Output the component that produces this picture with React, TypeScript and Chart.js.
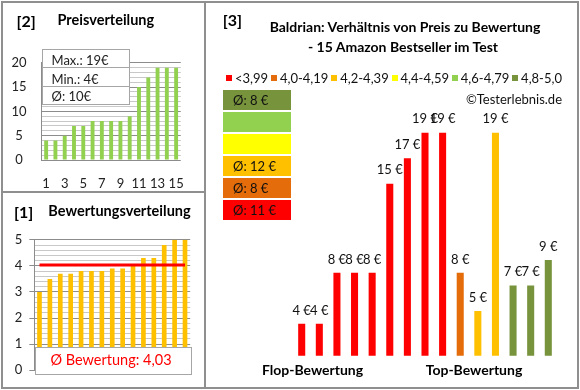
import React, { useEffect, useRef } from 'react';
import { Chart, registerables } from 'chart.js';

Chart.register(...registerables);

// ---------- data ----------
const productRanks = ['1', '2', '3', '4', '5', '6', '7', '8', '9', '10', '11', '12', '13', '14', '15'];
const pricesAscending = [4, 4, 5, 7, 7, 8, 8, 8, 8, 9, 15, 17, 19, 19, 19];
const ratingsAscending = [3.0, 3.5, 3.7, 3.7, 3.8, 3.8, 3.8, 3.9, 3.9, 4.0, 4.3, 4.3, 4.8, 5.0, 5.0];
const flopToTopPrices = [4, 4, 8, 8, 8, 15, 17, 19, 19, 8, 5, 19, 7, 7, 9];
const flopToTopRatings = [3.0, 3.5, 3.7, 3.7, 3.8, 3.8, 3.8, 3.9, 3.9, 4.0, 4.3, 4.3, 4.8, 5.0, 5.0];
const classLabels = ['<3,99', '4,0-4,19', '4,2-4,39', '4,4-4,59', '4,6-4,79', '4,8-5,0'];
const classColors = ['#FF0000', '#E46C0A', '#FFC000', '#FFFF00', '#92D050', '#77933C'];
const classLowerBounds = [0, 4.0, 4.2, 4.4, 4.6, 4.8];
const priceTickLabels = [0, 5, 10, 15, 20];
const ratingTickLabels = [0, 1, 2, 3, 4, 5];

const FONT = 'Lato, "Open Sans", sans-serif';

function classOf(r: number): number {
  let k = 0;
  classLowerBounds.forEach((b, i) => {
    if (r >= b - 1e-9) k = i;
  });
  return k;
}

const ratingAvg = ratingsAscending.reduce((a, b) => a + b, 0) / ratingsAscending.length;
const priceMax = Math.max(...pricesAscending);
const priceMin = Math.min(...pricesAscending);
const priceAvg = Math.round(pricesAscending.reduce((a, b) => a + b, 0) / pricesAscending.length);
const classAverages = classLabels.map((_, k) => {
  const ps = flopToTopPrices.filter((_, i) => classOf(flopToTopRatings[i]) === k);
  return ps.length ? Math.round(ps.reduce((a, b) => a + b, 0) / ps.length) : null;
});

function Label(props: {
  x: number; y: number; children: React.ReactNode; size?: number; bold?: boolean; color?: string;
  align?: 'left' | 'center' | 'right';
}) {
  const { x, y, children, size = 13, bold = false, color = '#000', align = 'left' } = props;
  const h = Math.round(size * 1.5);
  const style: React.CSSProperties = {
    position: 'absolute', top: y - h / 2, height: h, lineHeight: `${h}px`, fontSize: size,
    fontWeight: bold ? 700 : 400, color, whiteSpace: 'nowrap',
  };
  if (align === 'left') style.left = x;
  else if (align === 'center') { style.left = x - 200; style.width = 400; style.textAlign = 'center'; }
  else style.right = 580 - x;
  return <div style={style}>{children}</div>;
}

const BORDER = '#8f8f8f';

export default function App() {
  const priceRef = useRef<HTMLCanvasElement>(null);
  const ratingRef = useRef<HTMLCanvasElement>(null);
  const mainRef = useRef<HTMLCanvasElement>(null);

  useEffect(() => {
    const gridMajor = '#8c8c8c';
    const gridMinor = '#c8c8c8';
    const tickFont = { family: FONT, size: 13 };
    const isInt = (v: number) => Math.abs(v - Math.round(v)) < 1e-6;
    const charts: Chart[] = [];

    charts.push(new Chart(priceRef.current!, {
      type: 'bar',
      data: {
        labels: productRanks,
        datasets: [{ data: pricesAscending, backgroundColor: '#92D050', barPercentage: 0.42, categoryPercentage: 1 }],
      },
      options: {
        animation: false, responsive: false,
        layout: { padding: { top: 6.7, right: 10, left: 0, bottom: 0 } },
        plugins: { legend: { display: false }, tooltip: { enabled: false } },
        scales: {
          x: {
            grid: { display: false, drawTicks: false }, border: { display: false },
            ticks: {
              autoSkip: false, maxRotation: 0, minRotation: 0, padding: 16, color: '#222', font: tickFont,
              callback: (_v: any, i: number) => (i % 2 === 0 ? productRanks[i] : ''),
            },
            afterFit: (s: any) => { s.height = 35; },
          },
          y: {
            min: 0, max: 20,
            grid: { color: (c: any) => (c.tick.value % 5 === 0 ? gridMajor : gridMinor), drawTicks: false },
            border: { color: gridMajor },
            ticks: {
              autoSkip: false, stepSize: 1, padding: 15, crossAlign: 'center', color: '#222', font: tickFont,
              callback: (v: any) => (priceTickLabels.includes(Number(v)) ? String(v) : ''),
            },
            afterFit: (s: any) => { s.width = 41.5; },
          },
        },
      } as any,
    }));

    charts.push(new Chart(ratingRef.current!, {
      type: 'bar',
      data: {
        labels: productRanks,
        datasets: [
          { type: 'line', data: productRanks.map(() => ratingAvg), borderColor: '#FF0000', borderWidth: 3, pointRadius: 0, order: 0 } as any,
          { type: 'bar', data: ratingsAscending, backgroundColor: '#FFC000', barPercentage: 0.45, categoryPercentage: 1, order: 1 },
        ],
      },
      options: {
        animation: false, responsive: false,
        layout: { padding: { top: 13.3, right: 14.8, left: 0, bottom: 10.5 } },
        plugins: { legend: { display: false }, tooltip: { enabled: false } },
        scales: {
          x: { display: false },
          y: {
            min: 0, max: 5,
            grid: {
              color: (c: any) => (isInt(c.tick.value) ? gridMajor : gridMinor),
              tickColor: (c: any) => (isInt(c.tick.value) ? gridMajor : 'rgba(0,0,0,0)'),
              drawTicks: true, tickLength: 5,
            },
            border: { color: gridMajor },
            ticks: {
              autoSkip: false, stepSize: 0.2, padding: 7, crossAlign: 'center', color: '#222', font: tickFont,
              callback: (v: any) => {
                const n = Number(v);
                return isInt(n) && ratingTickLabels.includes(Math.round(n)) ? String(Math.round(n)) : '';
              },
            },
            afterFit: (s: any) => { s.width = 34.3; },
          },
        },
      } as any,
    }));

    const valueLabels = {
      id: 'valueLabels',
      afterDatasetsDraw(chart: any) {
        const ctx = chart.ctx;
        const meta = chart.getDatasetMeta(0);
        ctx.save();
        ctx.font = `13px ${FONT}`;
        ctx.fillStyle = '#111';
        ctx.textAlign = 'center';
        ctx.textBaseline = 'middle';
        meta.data.forEach((el: any, i: number) => {
          ctx.fillText(`${flopToTopPrices[i]} €`, el.x, el.y - 13.5);
        });
        ctx.restore();
      },
    };

    charts.push(new Chart(mainRef.current!, {
      type: 'bar',
      data: {
        labels: productRanks,
        datasets: [{
          data: flopToTopPrices,
          backgroundColor: flopToTopRatings.map((r) => classColors[classOf(r)]),
          barPercentage: 0.4, categoryPercentage: 1,
        }],
      },
      options: {
        animation: false, responsive: false,
        layout: { padding: { top: 19.9, right: 20.9, left: 87.9, bottom: 24.3 } },
        plugins: { legend: { display: false }, tooltip: { enabled: false } },
        scales: { x: { display: false }, y: { display: false, min: 1.5, max: 20 } },
      } as any,
      plugins: [valueLabels],
    }));

    return () => charts.forEach((c) => c.destroy());
  }, []);

  const canvasStyle = (l: number, t: number, w: number, h: number): React.CSSProperties => ({
    position: 'absolute', left: l, top: t, width: w, height: h, display: 'block',
  });

  return (
    <div style={{ position: 'absolute', left: 0, top: 0, width: 580, height: 390, background: '#fff', fontFamily: FONT, overflow: 'hidden' }}>
      <canvas ref={priceRef} width={200} height={155} style={canvasStyle(0, 40, 200, 155)} />
      <canvas ref={ratingRef} width={205} height={160} style={canvasStyle(0, 225, 205, 160)} />
      <canvas ref={mainRef} width={373} height={280} style={canvasStyle(205, 100, 373, 280)} />

      {/* frames */}
      <div style={{ position: 'absolute', left: 1, top: 1, width: 578, height: 388, border: `2px solid ${BORDER}`, boxSizing: 'border-box' }} />
      <div style={{ position: 'absolute', left: 204, top: 1, width: 2, height: 388, background: BORDER }} />
      <div style={{ position: 'absolute', left: 1, top: 191, width: 204, height: 2, background: BORDER }} />

      {/* panel 2 */}
      <Label x={16.5} y={20.5} size={16} bold>[2]</Label>
      <Label x={57.5} y={20} size={14.5} bold>Preisverteilung</Label>
      <div style={{ position: 'absolute', left: 42, top: 49, width: 88, height: 56, background: '#fff', border: '1px solid #a6a6a6', boxSizing: 'border-box' }}>
        <div style={{ position: 'absolute', left: 0, top: 17, width: 86, height: 1, background: '#a6a6a6' }} />
        <div style={{ position: 'absolute', left: 0, top: 36, width: 86, height: 1, background: '#a6a6a6' }} />
      </div>
      <Label x={51.5} y={60} size={13} color="#222">{`Max.: ${priceMax}€`}</Label>
      <Label x={51.5} y={78.5} size={13} color="#222">{`Min.: ${priceMin}€`}</Label>
      <Label x={51.5} y={96} size={13} color="#222">{`Ø: ${priceAvg}€`}</Label>

      {/* panel 1 */}
      <Label x={14} y={211.5} size={16} bold>[1]</Label>
      <Label x={48.3} y={210.5} size={14.5} bold>Bewertungsverteilung</Label>
      <div style={{ position: 'absolute', left: 35, top: 346.5, width: 157, height: 28, background: '#fff', border: '1px solid #a6a6a6', boxSizing: 'border-box' }} />
      <Label x={111} y={360} size={14.5} color="#FF0000" align="center">{`Ø Bewertung: ${ratingAvg.toFixed(2).replace('.', ',')}`}</Label>

      {/* panel 3 */}
      <Label x={222.7} y={20} size={16} bold>[3]</Label>
      <Label x={405} y={26} size={14} bold align="center">Baldrian: Verhältnis von Preis zu Bewertung</Label>
      <Label x={403} y={46} size={14} bold align="center">- 15 Amazon Bestseller im Test</Label>
      <div style={{ position: 'absolute', left: 226, top: 70, width: 336, height: 16, display: 'flex', justifyContent: 'space-between', alignItems: 'center' }}>
        {classLabels.map((l, i) => (
          <div key={l} style={{ display: 'flex', alignItems: 'center', fontSize: 13, color: '#111', whiteSpace: 'nowrap' }}>
            <div style={{ width: 6, height: 6, background: classColors[i], marginRight: 3 }} />
            <span>{l}</span>
          </div>
        ))}
      </div>
      <Label x={562} y={99} size={13} color="#111" align="right">©Testerlebnis.de</Label>
      <div style={{ position: 'absolute', left: 223, top: 90, width: 68, display: 'flex', flexDirection: 'column', gap: 2 }}>
        {classLabels.map((_, k) => classLabels.length - 1 - k).map((k) => (
          <div key={k} style={{ height: 20, background: classColors[k], fontSize: 13, lineHeight: '20px', paddingLeft: 10, color: '#111', boxSizing: 'border-box' }}>
            {classAverages[k] !== null ? `Ø: ${classAverages[k]} €` : ''}
          </div>
        ))}
      </div>
      <Label x={312.5} y={369} size={14} bold align="center">Flop-Bewertung</Label>
      <Label x={474} y={369} size={14} bold align="center">Top-Bewertung</Label>
    </div>
  );
}
